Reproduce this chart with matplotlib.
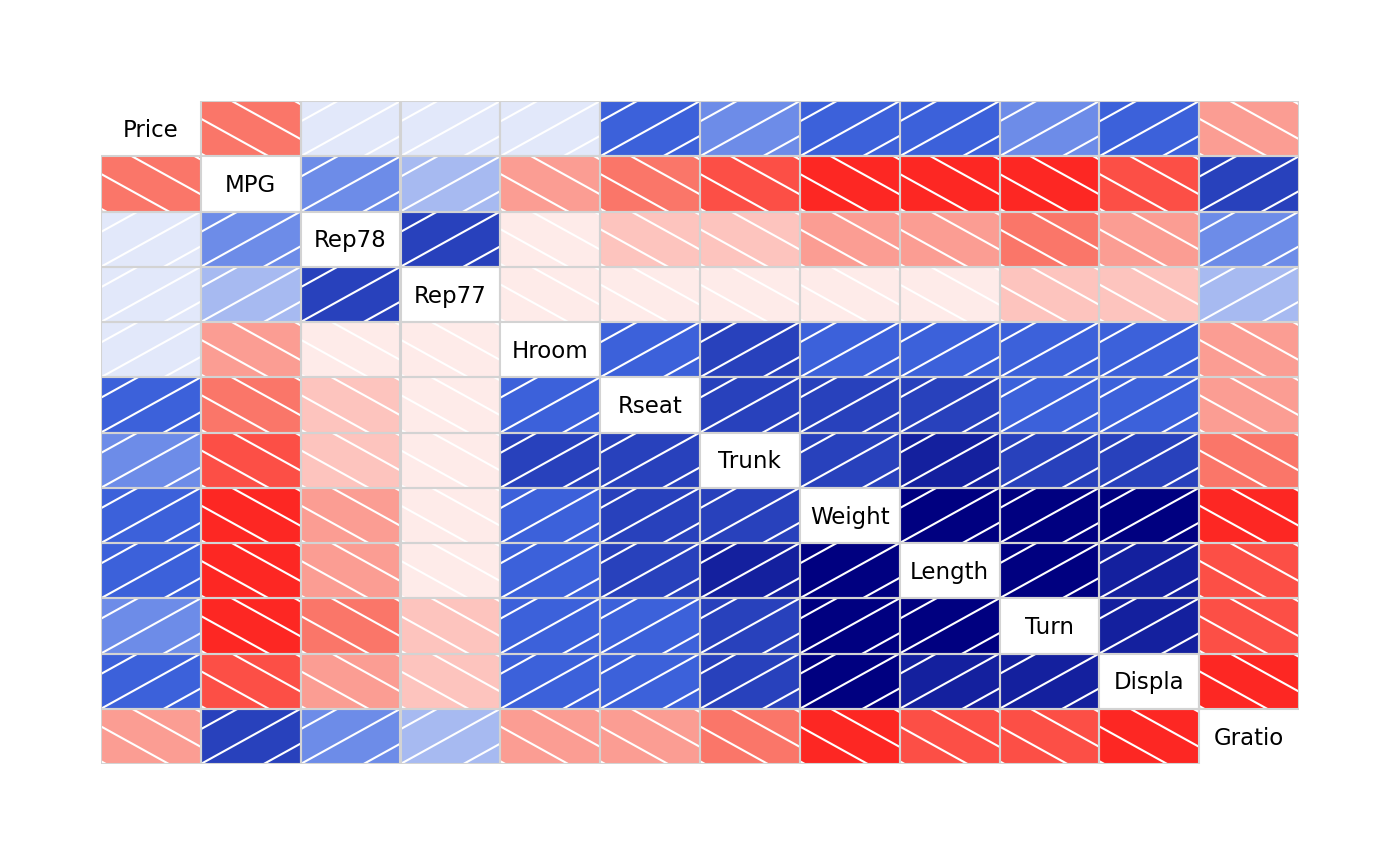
import numpy as np
import matplotlib
matplotlib.use("Agg")
import matplotlib.pyplot as plt
from matplotlib.colors import LinearSegmentedColormap
from matplotlib.patches import Rectangle

# variables of the auto data, in plot order
labels = ["Price", "MPG", "Rep78", "Rep77", "Hroom", "Rseat",
          "Trunk", "Weight", "Length", "Turn", "Displa", "Gratio"]

# upper triangle of the correlation matrix, row by row
r_price = [-0.47, 0.03, 0.05, 0.11, 0.45, 0.31, 0.54, 0.44, 0.31, 0.49, -0.31]
r_mpg = [0.40, 0.20, -0.41, -0.50, -0.58, -0.81, -0.80, -0.73, -0.70, 0.62]
r_rep78 = [0.68, -0.05, -0.20, -0.18, -0.40, -0.36, -0.50, -0.40, 0.40]
r_rep77 = [-0.08, -0.05, -0.07, -0.12, -0.10, -0.25, -0.20, 0.25]
r_hroom = [0.53, 0.66, 0.48, 0.52, 0.44, 0.47, -0.38]
r_rseat = [0.70, 0.63, 0.68, 0.55, 0.51, -0.36]
r_trunk = [0.67, 0.73, 0.60, 0.65, -0.45]
r_weight = [0.95, 0.88, 0.89, -0.76]
r_length = [0.88, 0.84, -0.70]
r_turn = [0.78, -0.68]
r_displa = [-0.83]

upper = [r_price, r_mpg, r_rep78, r_rep77, r_hroom, r_rseat,
         r_trunk, r_weight, r_length, r_turn, r_displa]

n = len(labels)
corr = np.eye(n)
for i, row in enumerate(upper):
    for k, v in enumerate(row):
        j = i + 1 + k
        corr[i, j] = v
        corr[j, i] = v

# corrgram style palette, 14 bins over [-1, 1]
ncol = 14
cmap = LinearSegmentedColormap.from_list(
    "cg", ["red", "salmon", "white", "royalblue", "navy"], N=ncol)
pal = [cmap(i) for i in range(ncol)]
breaks = np.linspace(-1, 1, ncol + 1)

fig = plt.figure(figsize=(14, 8.66), dpi=100)
ax = fig.add_axes([101/1400, 1 - 764/866, 1198/1400, 663/866])
ax.set_xlim(0, n)
ax.set_ylim(0, n)
ax.axis("off")

spacing = 0.63
border = "#d3d3d3"

for i in range(n):
    for j in range(n):
        x0 = j
        y0 = n - 1 - i
        if i == j:
            ax.text(x0 + 0.5, y0 + 0.47, labels[i], ha="center", va="center",
                    fontsize=16.5, color="black", zorder=5)
            if i not in (0, n - 1):
                ax.add_patch(Rectangle((x0, y0), 1, 1, facecolor="white",
                                       edgecolor=border, lw=1.5, zorder=3))
            continue
        r = corr[i, j]
        ind = np.clip(np.searchsorted(breaks, r, side="right") - 1, 0, ncol - 1)
        cell = Rectangle((x0, y0), 1, 1, facecolor=pal[ind], edgecolor="none",
                         zorder=1)
        ax.add_patch(cell)
        # hatching: "/" for positive, "\" for negative
        u = np.array([-0.5, 1.5])
        if r > 0:
            offs = np.arange(-3, 4) * spacing + 0.0
            for c in offs:
                ln, = ax.plot(x0 + u, y0 + u + c, color="white", lw=1.5,
                              zorder=2, solid_capstyle="butt")
                ln.set_clip_path(cell)
        else:
            offs = np.arange(-3, 5) * spacing + 0.05
            for c in offs:
                ln, = ax.plot(x0 + u, y0 - u + c, color="white", lw=1.5,
                              zorder=2, solid_capstyle="butt")
                ln.set_clip_path(cell)
        ax.add_patch(Rectangle((x0, y0), 1, 1, facecolor="none",
                               edgecolor=border, lw=1.5, zorder=3))

plt.savefig("out.png", dpi=100)
